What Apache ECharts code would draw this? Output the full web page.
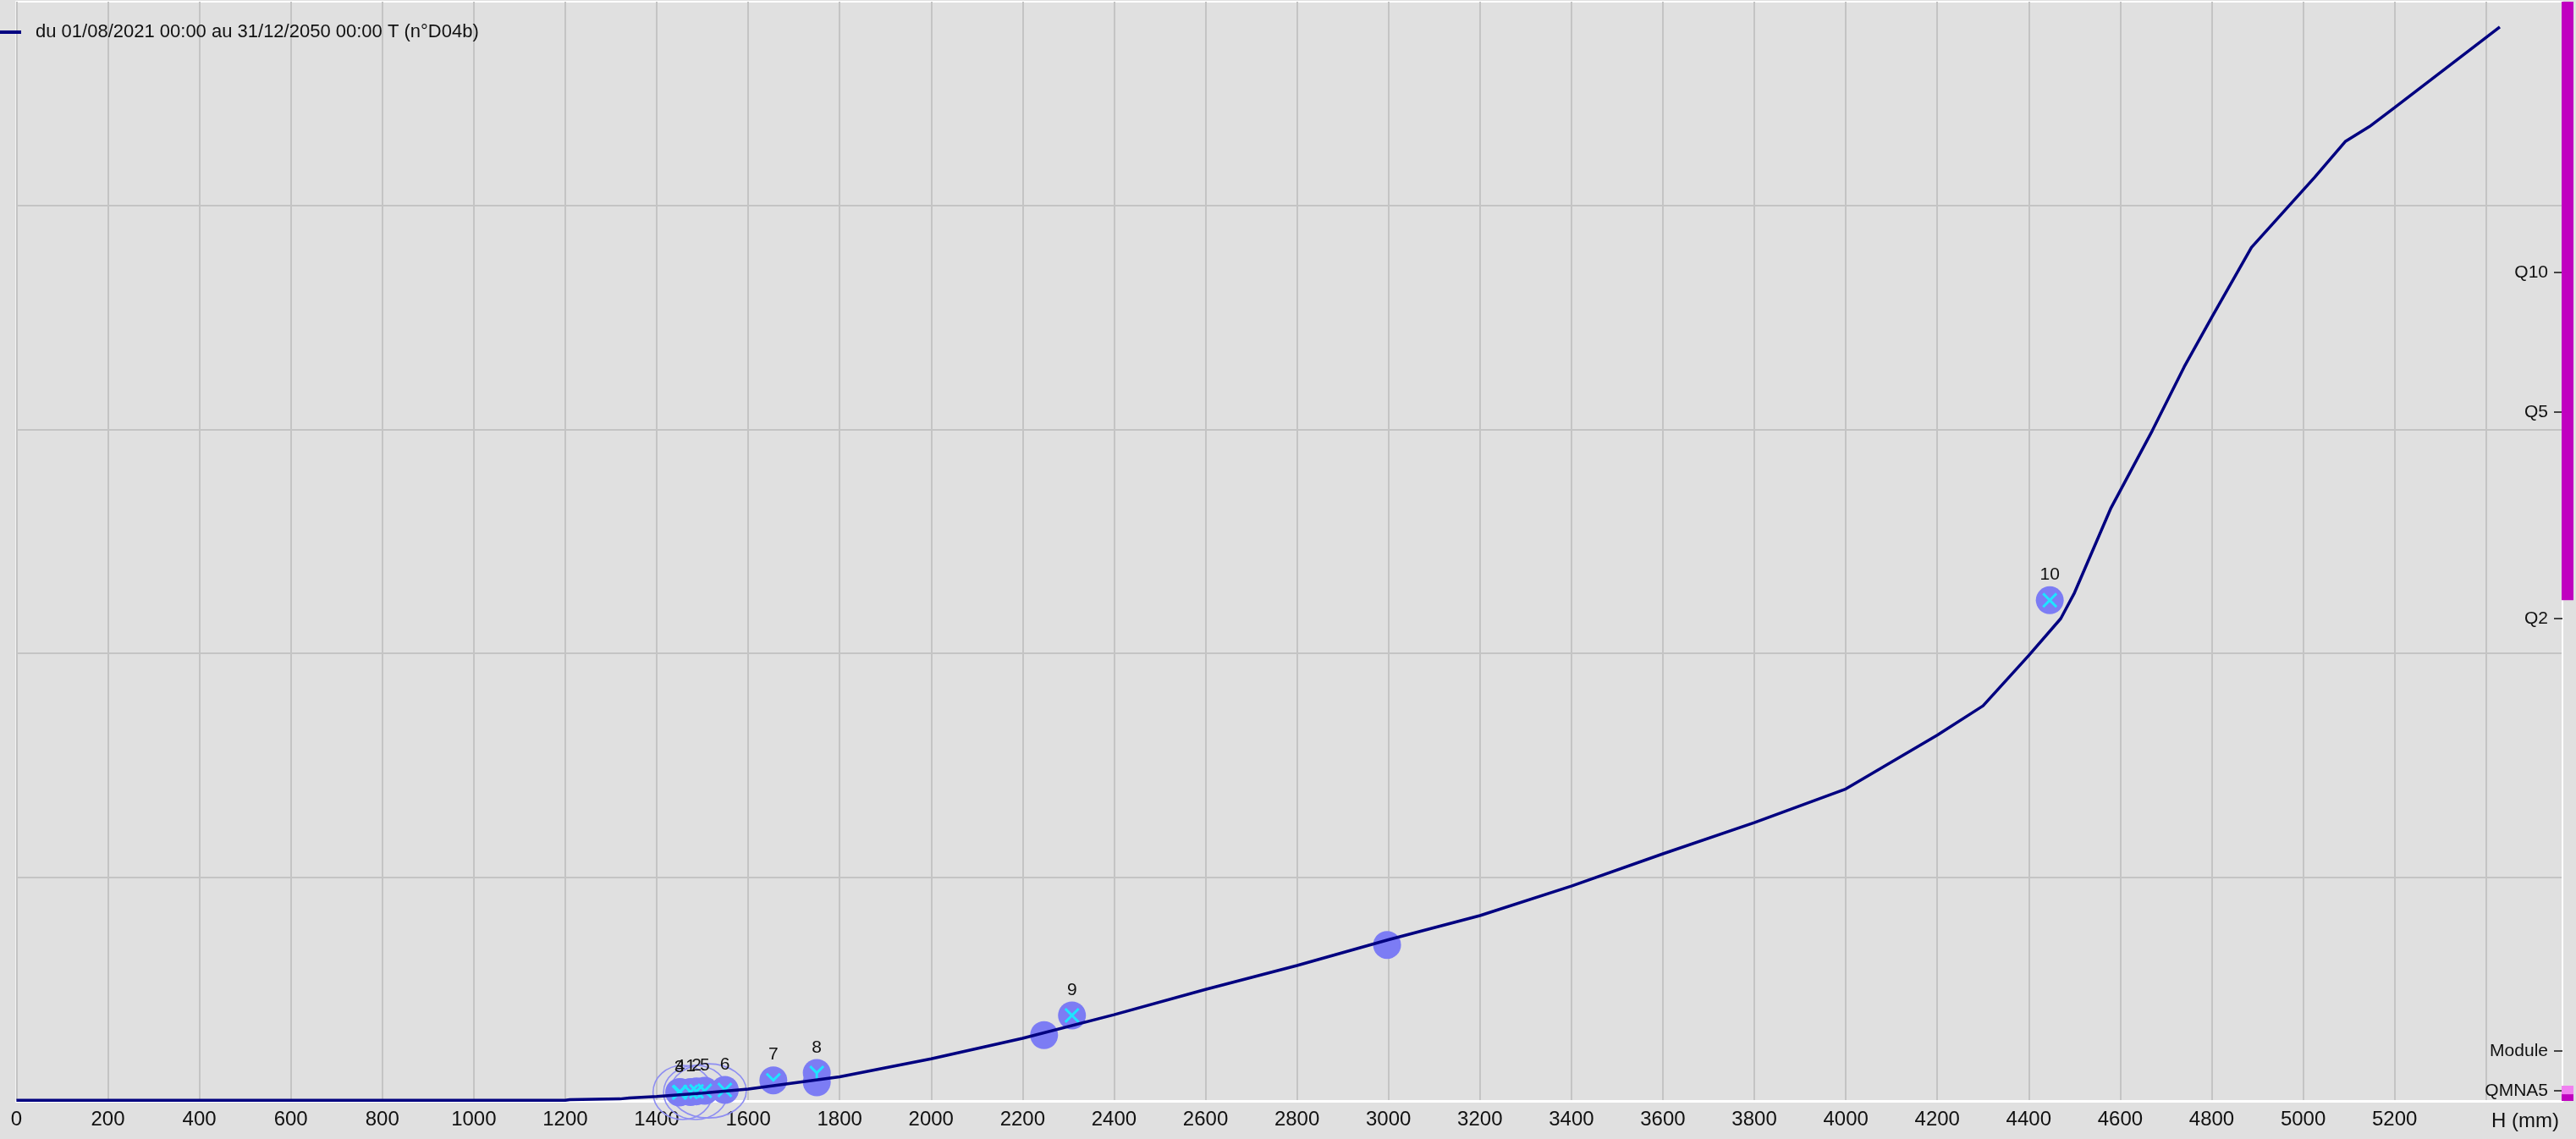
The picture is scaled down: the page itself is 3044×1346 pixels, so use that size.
<!DOCTYPE html>
<html>
<head>
<meta charset="utf-8">
<script src="https://cdn.jsdelivr.net/npm/echarts@6/dist/echarts.min.js"></script>
<style>
html,body{margin:0;padding:0;background:#e0e0e0;}
#chart{width:3044px;height:1346px;}
</style>
</head>
<body>
<div id="chart"></div>
<script>
// ---------- data ----------
const seriesName = 'du 01/08/2021 00:00 au 31/12/2050 00:00 T (n°D04b)';

// rating curve: H (mm) -> Q
const curveH = [0, 1200, 1210, 1320, 1340, 1400, 1500, 1600, 1800, 2000, 2200, 2400, 2600, 2800, 3000, 3200, 3400, 3600, 3800, 4000, 4200, 4300, 4400, 4470, 4500, 4580, 4670, 4740, 4800, 4887, 5025, 5092, 5145, 5200, 5430];
const curveQ = [0.3, 0.3, 0.6, 0.9, 1.3, 2.0, 3.5, 5.3, 10.8, 18.8, 28.0, 38.5, 49.8, 60.5, 72.0, 82.8, 96.0, 110.4, 124.3, 139.4, 163.4, 176.5, 199.0, 215.5, 227.0, 265.0, 299.4, 328.0, 350.0, 381.3, 412.6, 428.6, 435.3, 443.8, 479.8];

// gaugings
const gaugeH     = [1449, 1451, 1474, 1487, 1505, 1549, 1655, 1750, 1750, 2247, 2308, 2997, 4446];
const gaugeQ     = [3.8,  4.0,  4.0,  4.3,  4.5,  4.9,  9.2,  12.5, 8.3,  29.4, 38.2, 69.7, 223.7];
const gaugeLabel = ['3',  '4',  '1',  '2',  '5',  '6',  '7',  '8',  '',   '',   '9',  '',   '10'];
const gaugeMark  = ['X',  'X',  'X',  'X',  'X',  'X',  'V',  'Y',  '',   '',   'X',  '',   'X'];

// uncertainty ellipses (centre and half-extent in data units)
const ellipseH     = [1457, 1485, 1513];
const ellipseQ     = [3.8, 3.8, 4.5];
const ellipseHalfH = [65, 70, 83];
const ellipseHalfQ = [12.1, 12.1, 12.1];

// axes
const xMin = 0, xMax = 5567, xStep = 200, xLastLabel = 5200;
const yMin = 0, yMax = 491.1, yStep = 100;

// reference discharges (right side)
const refNames  = ['Q10', 'Q5', 'Q2', 'Module', 'QMNA5'];
const refValues = [370.1, 307.8, 215.5, 22.3, 4.5];

// side band edges (extrapolation zones)
const bandEdges = [0, 3.0, 6.8, 223.7, 491.1];

// ---------- chart ----------
const FONT = '"Liberation Sans", Arial, sans-serif';
const chart = echarts.init(document.getElementById('chart'), null, {width: 3044, height: 1346});

const markPaths = {
  X: 'path://M0,1.2L1.2,0L5,3.8L8.8,0L10,1.2L6.2,5L10,8.8L8.8,10L5,6.2L1.2,10L0,8.8L3.8,5Z',
  V: 'path://M0,1.2L1.2,0L5,3.8L8.8,0L10,1.2L5,6.2Z',
  Y: 'path://M0,1.2L1.2,0L5,3.8L8.8,0L10,1.2L5.8,5.4L5.8,10L4.2,10L4.2,5.4Z'
};
const markSize = {X: [18, 18], V: [18, 11.2], Y: [18, 18]};
const markOffset = {X: [0, 0], V: [0, -3.4], Y: [0, 0]};

const curveData = curveH.map((h, i) => [h, curveQ[i]]);
const gaugeData = gaugeH.map((h, i) => [h, gaugeQ[i]]);
const markData = [];
gaugeH.forEach((h, i) => {
  const m = gaugeMark[i];
  if (m) markData.push({value: [h, gaugeQ[i]], symbol: markPaths[m], symbolSize: markSize[m], symbolOffset: markOffset[m]});
});
const ellipseData = ellipseH.map((h, i) => [h, ellipseQ[i], ellipseHalfH[i], ellipseHalfQ[i]]);

const bandColors = ['#c000c0', '#f080f0', 'rgba(0,0,0,0)', '#c000c0'];
const bandSeries = [];
for (let i = 0; i < bandEdges.length - 1; i++) {
  bandSeries.push({
    type: 'bar', xAxisIndex: 1, yAxisIndex: 2, stack: 'band', silent: true,
    barWidth: '100%', data: [bandEdges[i + 1] - bandEdges[i]],
    itemStyle: {color: bandColors[i]}
  });
}

const option = {
  backgroundColor: '#e0e0e0',
  animation: false,
  textStyle: {fontFamily: FONT},
  legend: {
    left: 0, top: 25, padding: 0, itemWidth: 25, itemHeight: 4, icon: 'rect',
    data: [seriesName],
    textStyle: {fontFamily: FONT, fontSize: 22, color: '#111', lineHeight: 26, padding: [0, 0, 0, 12]}
  },
  grid: [
    {left: 19.4, right: 16, top: 2, bottom: 45, show: true, backgroundColor: '#e0e0e0', borderColor: '#ffffff', borderWidth: 2},
    {left: 3027, width: 14, top: 2, bottom: 45}
  ],
  xAxis: [
    {
      type: 'value', gridIndex: 0, min: xMin, max: xMax, interval: xStep,
      axisLine: {show: true, lineStyle: {color: '#ffffff', width: 3}},
      axisTick: {show: false},
      axisLabel: {fontFamily: FONT, fontSize: 24, color: '#111', margin: 10,
        formatter: v => (v % xStep === 0 && v <= xLastLabel) ? String(v) : ''},
      splitLine: {show: true, showMaxLine: false, lineStyle: {color: '#c4c4c4', width: 2}},
      name: 'H (mm)', nameLocation: 'end', nameGap: 0,
      nameTextStyle: {fontFamily: FONT, fontSize: 24, color: '#111', align: 'right', verticalAlign: 'top', padding: [12, 4, 0, 0]}
    },
    {type: 'category', gridIndex: 1, data: ['z'], show: false}
  ],
  yAxis: [
    {
      type: 'value', gridIndex: 0, min: yMin, max: yMax, interval: yStep,
      axisLine: {show: false}, axisTick: {show: false}, axisLabel: {show: false},
      splitLine: {show: true, showMinLine: false, showMaxLine: false, lineStyle: {color: '#c4c4c4', width: 2}}
    },
    {
      type: 'value', gridIndex: 0, position: 'right', min: yMin, max: yMax,
      axisLine: {show: true, lineStyle: {color: '#ffffff', width: 2}},
      axisTick: {show: true, inside: true, length: 10, customValues: refValues, lineStyle: {color: '#111', width: 1.5}},
      axisLabel: {show: true, inside: true, margin: 17, fontFamily: FONT, fontSize: 21, color: '#111',
        customValues: refValues,
        formatter: v => {
          let k = 0, best = Infinity;
          refValues.forEach((r, i) => { const d = Math.abs(r - v); if (d < best) { best = d; k = i; } });
          return refNames[k];
        }},
      splitLine: {show: false}
    },
    {type: 'value', gridIndex: 1, min: yMin, max: yMax, show: false}
  ],
  series: [
    {
      type: 'custom', xAxisIndex: 0, yAxisIndex: 0, z: 2, silent: true,
      data: ellipseData,
      renderItem: (params, api) => {
        const c = api.coord([api.value(0), api.value(1)]);
        const s = api.size([api.value(2), api.value(3)]);
        const rx = s[0], ry = s[1];
        const d = `M${c[0] - rx},${c[1]}A${rx},${ry},0,1,0,${c[0] + rx},${c[1]}A${rx},${ry},0,1,0,${c[0] - rx},${c[1]}Z`;
        return {type: 'path', shape: {pathData: d}, style: {fill: 'none', stroke: '#8e8ef2', lineWidth: 1.6}};
      }
    },
    {
      type: 'scatter', xAxisIndex: 0, yAxisIndex: 0, z: 3, clip: false, silent: true,
      data: gaugeData, symbol: 'circle', symbolSize: 33,
      itemStyle: {color: '#7c7cf4', opacity: 1},
      label: {show: true, position: 'top', distance: 3, fontFamily: FONT, fontSize: 21, color: '#111',
        formatter: p => gaugeLabel[p.dataIndex]}
    },
    {
      type: 'scatter', xAxisIndex: 0, yAxisIndex: 0, z: 4, clip: false, silent: true,
      data: markData,
      itemStyle: {color: '#1ee4ff', opacity: 1}
    },
    {
      name: seriesName, type: 'line', xAxisIndex: 0, yAxisIndex: 0, z: 5,
      data: curveData, showSymbol: false, symbol: 'none',
      lineStyle: {color: '#000080', width: 3.5},
      itemStyle: {color: '#000080'}
    }
  ].concat(bandSeries)
};
chart.setOption(option);
</script>
</body>
</html>
